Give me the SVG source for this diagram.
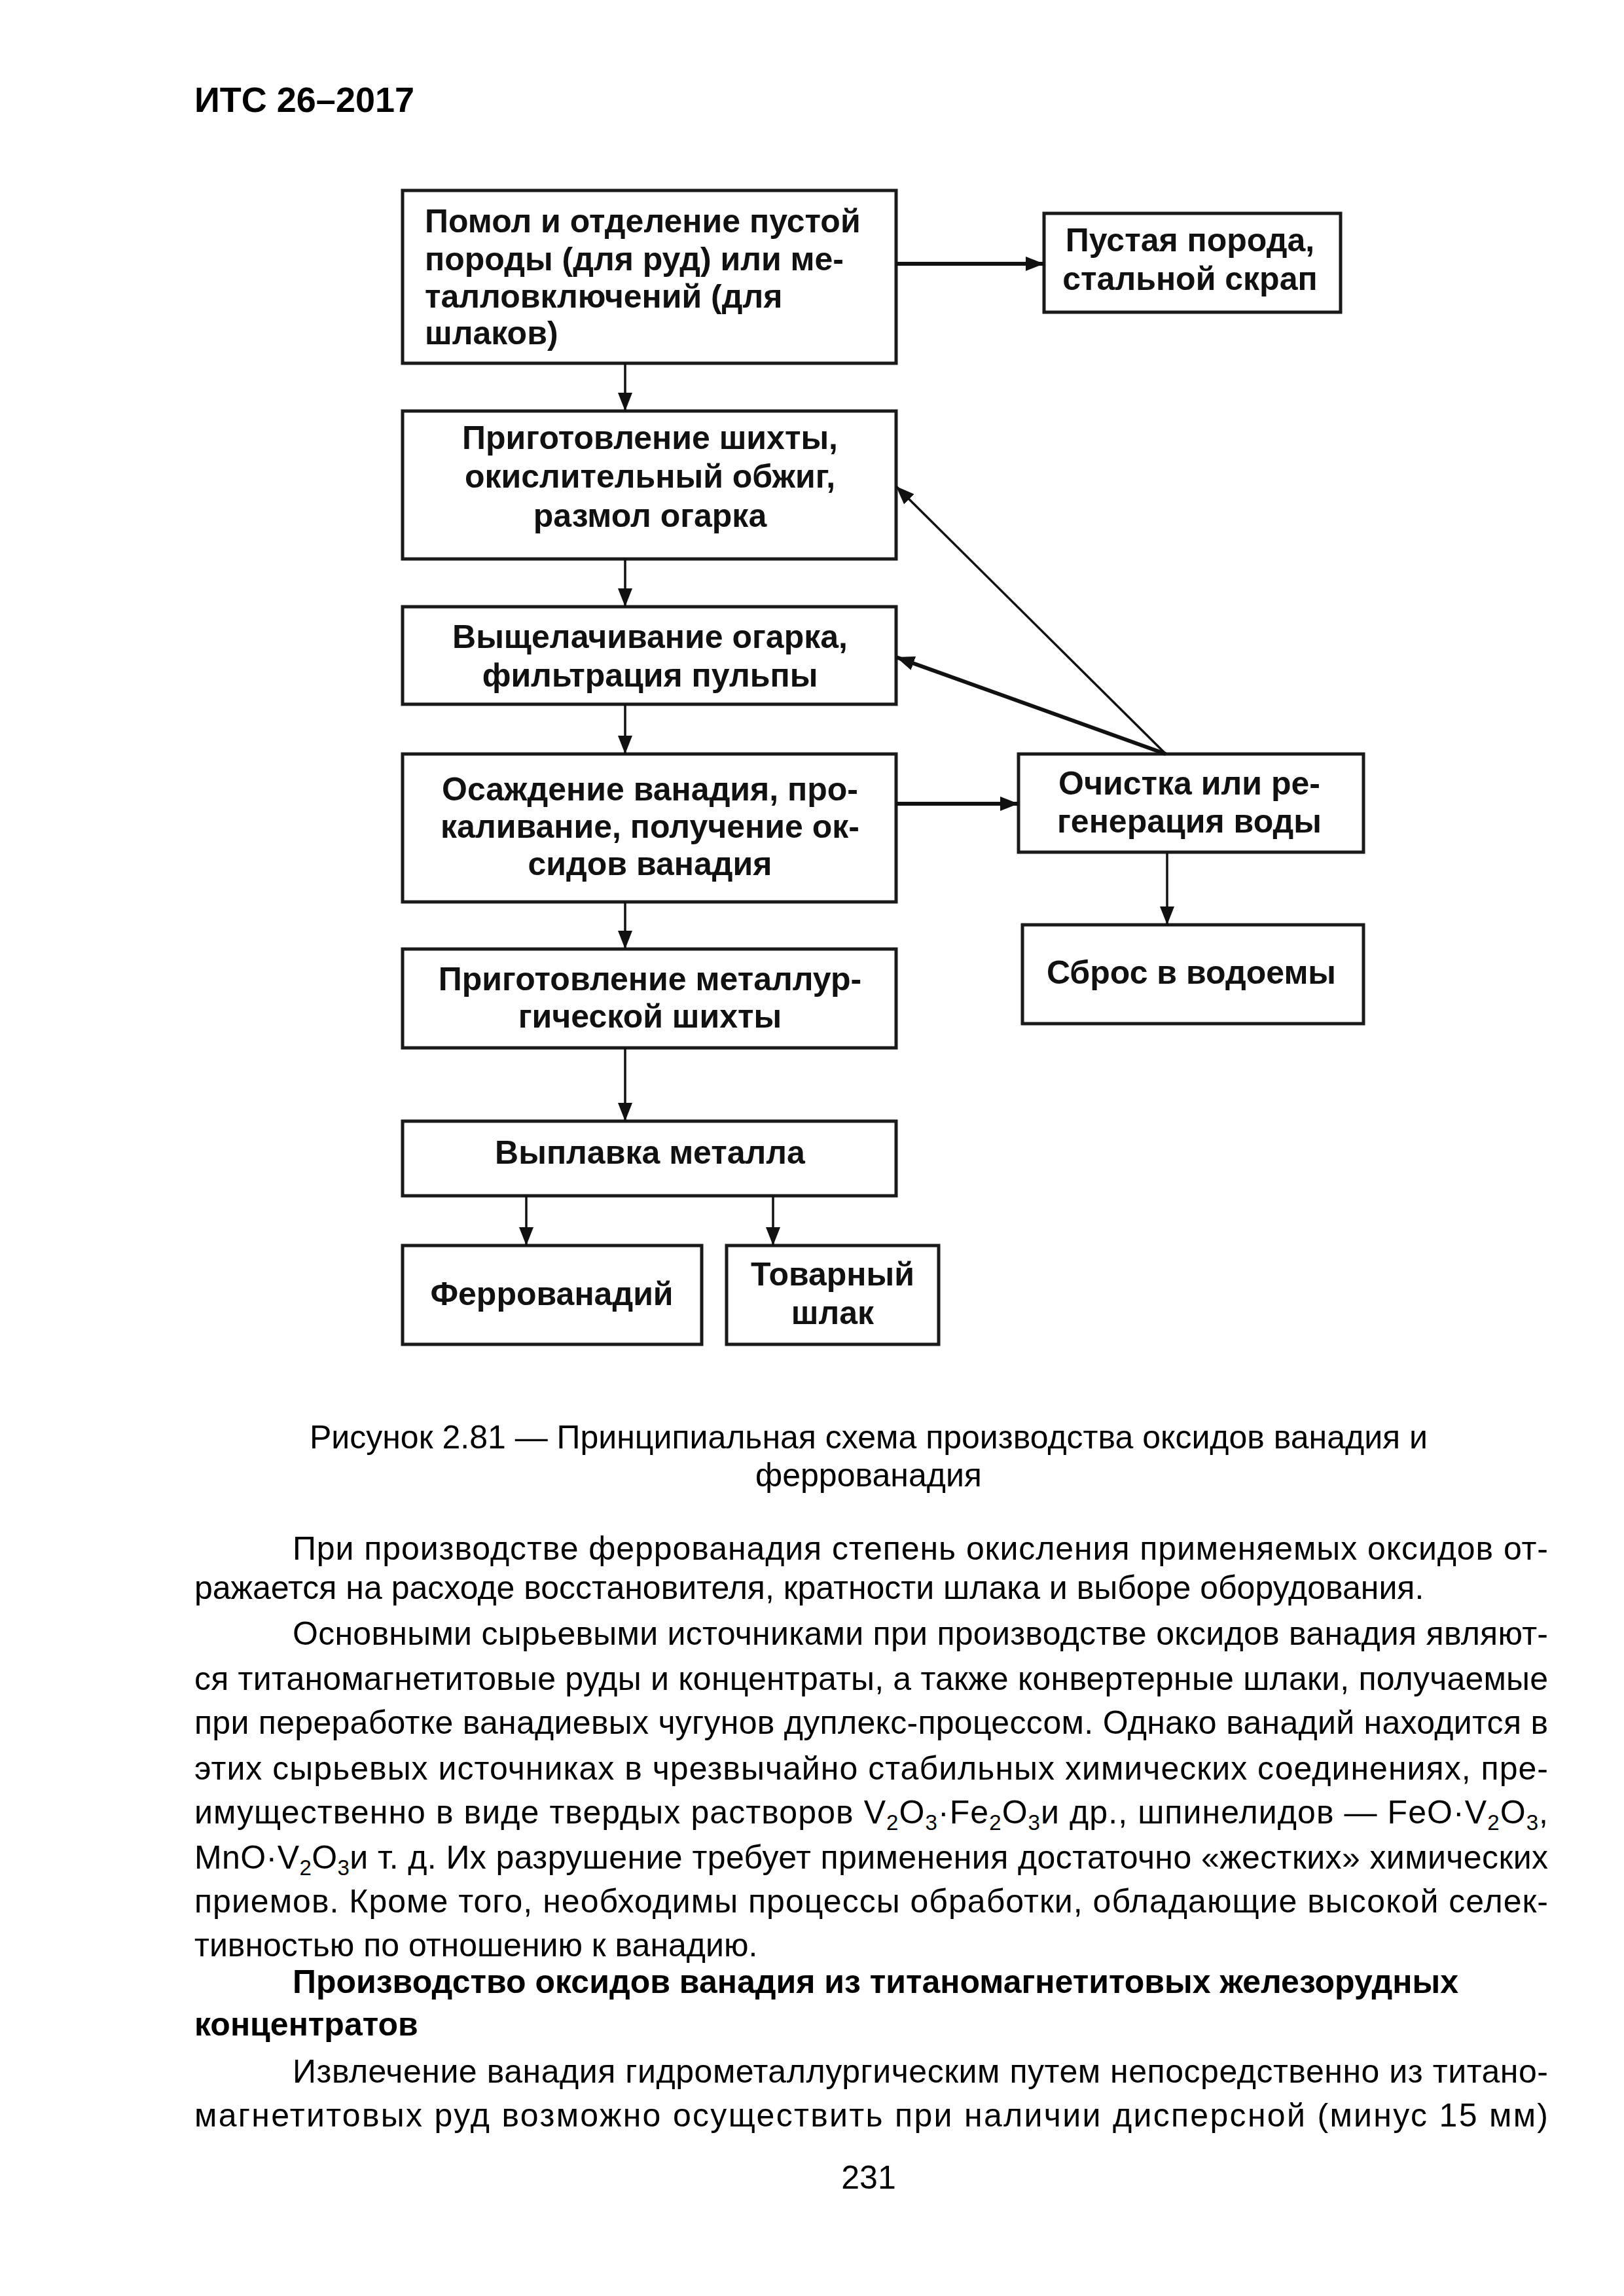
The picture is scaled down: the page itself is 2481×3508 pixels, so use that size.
<svg xmlns="http://www.w3.org/2000/svg" width="2481" height="3508" viewBox="0 0 2481 3508">
<defs>
<style>
.box{fill:#fff;stroke:#1a1a1a;stroke-width:5}
.bt{font-family:"Liberation Sans",Arial,sans-serif;font-weight:bold;font-size:50px;fill:#111}
.c{text-anchor:middle}
.tx{font-family:"Liberation Sans",Arial,sans-serif;font-size:50px;fill:#000}
.b{font-weight:bold}
.hd{font-family:"Liberation Sans",Arial,sans-serif;font-weight:bold;font-size:54px;fill:#000}
.conn{stroke:#111;stroke-width:3.5;fill:none}
.thick{stroke-width:6}
</style>
<marker id="ah" viewBox="0 0 28 22" refX="28" refY="11" markerWidth="28" markerHeight="22" markerUnits="userSpaceOnUse" orient="auto">
<path d="M0,0 L28,11 L0,22 z" fill="#111"/>
</marker>
</defs>
<rect width="2481" height="3508" fill="#fff"/>

<text class="hd" x="297" y="171">ИТС 26–2017</text>

<g id="n1"><rect class="box" x="615" y="291" width="754" height="264"/>
<text class="bt" x="649" y="355">Помол и отделение пустой</text>
<text class="bt" x="649" y="413">породы (для руд) или ме-</text>
<text class="bt" x="649" y="470">талловключений (для</text>
<text class="bt" x="649" y="526">шлаков)</text></g>

<g id="n2"><rect class="box" x="1595" y="326" width="453" height="151"/>
<text class="bt c" x="1818" y="384">Пустая порода,</text>
<text class="bt c" x="1818" y="443">стальной скрап</text></g>

<g id="n3"><rect class="box" x="615" y="628" width="754" height="226"/>
<text class="bt c" x="993" y="686">Приготовление шихты,</text>
<text class="bt c" x="993" y="745">окислительный обжиг,</text>
<text class="bt c" x="993" y="805">размол огарка</text></g>

<g id="n4"><rect class="box" x="615" y="927" width="754" height="149"/>
<text class="bt c" x="993" y="990">Выщелачивание огарка,</text>
<text class="bt c" x="993" y="1049">фильтрация пульпы</text></g>

<g id="n5"><rect class="box" x="615" y="1152" width="754" height="226"/>
<text class="bt c" x="993" y="1223">Осаждение ванадия, про-</text>
<text class="bt c" x="993" y="1280">каливание, получение ок-</text>
<text class="bt c" x="993" y="1337">сидов ванадия</text></g>

<g id="n6"><rect class="box" x="1556" y="1152" width="527" height="150"/>
<text class="bt c" x="1817" y="1214">Очистка или ре-</text>
<text class="bt c" x="1817" y="1272">генерация воды</text></g>

<g id="n7"><rect class="box" x="1562" y="1413" width="521" height="151"/>
<text class="bt c" x="1820" y="1503">Сброс в водоемы</text></g>

<g id="n8"><rect class="box" x="615" y="1450" width="754" height="151"/>
<text class="bt c" x="993" y="1513">Приготовление металлур-</text>
<text class="bt c" x="993" y="1570">гической шихты</text></g>

<g id="n9"><rect class="box" x="615" y="1713" width="754" height="114"/>
<text class="bt c" x="993" y="1778">Выплавка металла</text></g>

<g id="n10"><rect class="box" x="615" y="1903" width="457" height="151"/>
<text class="bt c" x="843" y="1994">Феррованадий</text></g>

<g id="n11"><rect class="box" x="1110" y="1903" width="324" height="151"/>
<text class="bt c" x="1272" y="1964">Товарный</text>
<text class="bt c" x="1272" y="2023">шлак</text></g>

<g id="connectors">
<line class="conn thick" x1="1369" y1="403" x2="1595" y2="403" marker-end="url(#ah)"/>
<line class="conn" x1="955" y1="555" x2="955" y2="628" marker-end="url(#ah)"/>
<line class="conn" x1="955" y1="854" x2="955" y2="927" marker-end="url(#ah)"/>
<line class="conn" x1="955" y1="1076" x2="955" y2="1152" marker-end="url(#ah)"/>
<line class="conn" x1="955" y1="1378" x2="955" y2="1450" marker-end="url(#ah)"/>
<line class="conn" x1="955" y1="1601" x2="955" y2="1713" marker-end="url(#ah)"/>
<line class="conn thick" x1="1369" y1="1228" x2="1556" y2="1228" marker-end="url(#ah)"/>
<line class="conn" x1="1781" y1="1152" x2="1369" y2="743" marker-end="url(#ah)"/>
<line class="conn thick" x1="1781" y1="1152" x2="1369" y2="1004" marker-end="url(#ah)"/>
<line class="conn" x1="1783" y1="1302" x2="1783" y2="1413" marker-end="url(#ah)"/>
<line class="conn" x1="804" y1="1827" x2="804" y2="1903" marker-end="url(#ah)"/>
<line class="conn" x1="1181" y1="1827" x2="1181" y2="1903" marker-end="url(#ah)"/>
</g>

<text class="tx c" x="1327" y="2213">Рисунок 2.81 — Принципиальная схема производства оксидов ванадия и</text>
<text class="tx c" x="1327" y="2271">феррованадия</text>

<text class="tx" x="447" y="2383" textLength="1918" lengthAdjust="spacing">При производстве феррованадия степень окисления применяемых оксидов от-</text>
<text class="tx" x="297" y="2443">ражается на расходе восстановителя, кратности шлака и выборе оборудования.</text>
<text class="tx" x="447" y="2513" textLength="1918" lengthAdjust="spacing">Основными сырьевыми источниками при производстве оксидов ванадия являют-</text>
<text class="tx" x="297" y="2582" textLength="2068" lengthAdjust="spacing">ся титаномагнетитовые руды и концентраты, а также конвертерные шлаки, получаемые</text>
<text class="tx" x="297" y="2649" textLength="2068" lengthAdjust="spacing">при переработке ванадиевых чугунов дуплекс-процессом. Однако ванадий находится в</text>
<text class="tx" x="297" y="2719" textLength="2068" lengthAdjust="spacing">этих сырьевых источниках в чрезвычайно стабильных химических соединениях, пре-</text>
<text class="tx" x="297" y="2786" textLength="2068" lengthAdjust="spacing">имущественно в виде твердых растворов V<tspan dy="10" font-size="33">2</tspan><tspan dy="-10">O</tspan><tspan dy="10" font-size="33">3</tspan><tspan dy="-10">·Fe</tspan><tspan dy="10" font-size="33">2</tspan><tspan dy="-10">O</tspan><tspan dy="10" font-size="33">3</tspan><tspan dy="-10">и др., шпинелидов — FeO·V</tspan><tspan dy="10" font-size="33">2</tspan><tspan dy="-10">O</tspan><tspan dy="10" font-size="33">3</tspan><tspan dy="-10">,</tspan></text>
<text class="tx" x="297" y="2855" textLength="2068" lengthAdjust="spacing">MnO·V<tspan dy="10" font-size="33">2</tspan><tspan dy="-10">O</tspan><tspan dy="10" font-size="33">3</tspan><tspan dy="-10">и т. д. Их разрушение требует применения достаточно «жестких» химических</tspan></text>
<text class="tx" x="297" y="2922" textLength="2068" lengthAdjust="spacing">приемов. Кроме того, необходимы процессы обработки, обладающие высокой селек-</text>
<text class="tx" x="297" y="2989">тивностью по отношению к ванадию.</text>
<text class="tx b" x="447" y="3045">Производство оксидов ванадия из титаномагнетитовых железорудных</text>
<text class="tx b" x="297" y="3110">концентратов</text>
<text class="tx" x="447" y="3182" textLength="1918" lengthAdjust="spacing">Извлечение ванадия гидрометаллургическим путем непосредственно из титано-</text>
<text class="tx" x="297" y="3249" textLength="2068" lengthAdjust="spacing">магнетитовых руд возможно осуществить при наличии дисперсной (минус 15 мм)</text>
<text class="tx c" x="1327" y="3344">231</text>
</svg>
